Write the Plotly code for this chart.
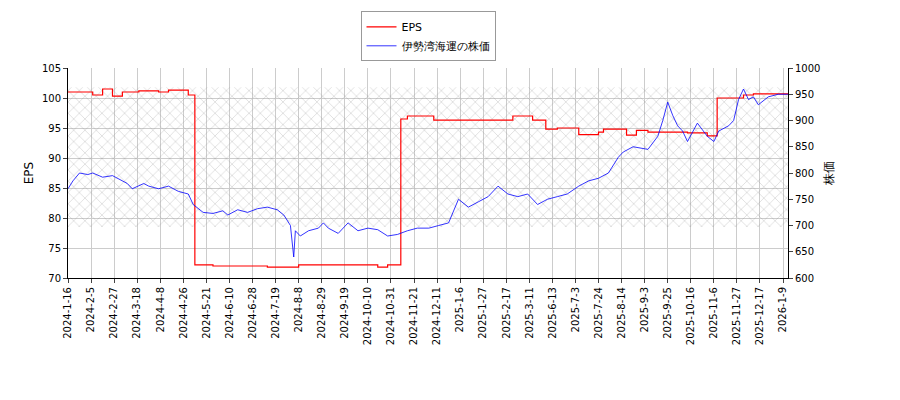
import plotly.graph_objects as go

tick_labels = ["2024-1-16","2024-2-5","2024-2-27","2024-3-18","2024-4-8","2024-4-26","2024-5-21","2024-6-10","2024-6-28","2024-7-19","2024-8-8","2024-8-29","2024-9-19","2024-10-10","2024-10-31","2024-11-21","2024-12-11","2025-1-6","2025-1-27","2025-2-17","2025-3-11","2025-6-13","2025-7-3","2025-7-24","2025-8-14","2025-9-3","2025-9-25","2025-10-16","2025-11-6","2025-11-27","2025-12-17","2026-1-9"]
tick_pos = [i*14 for i in range(len(tick_labels))]

price_x = [0,3,7,12,15,21,27,33,36,39,46,49,55,61,67,73,76,82,88,94,97,103,109,115,121,127,131,135,137,138,141,146,152,155,158,164,170,176,182,188,194,200,206,212,219,225,231,237,243,249,255,261,267,273,279,285,291,297,303,310,316,322,328,334,337,343,352,358,361,364,367,370,373,376,382,388,392,395,401,404,407,410,413,416,419,425,431,437]
price_y = [770,785,800,797,800,792,795,785,780,770,780,775,770,775,765,760,740,725,723,728,720,730,725,732,735,730,720,700,640,690,680,690,695,705,695,685,705,690,695,692,680,683,690,695,695,700,705,750,735,745,755,775,760,755,760,740,750,755,760,775,785,790,800,830,840,850,845,870,900,935,910,890,880,860,895,870,860,880,890,900,940,960,940,945,930,945,950,950]

eps_x = [0,15,21,27,33,43,55,61,73,77,88,121,140,188,194,202,206,222,270,282,290,297,310,322,325,339,345,352,376,388,394,410,416,437]
eps_y = [101,100.5,101.5,100.3,101,101.2,101,101.3,100.5,72.2,72,71.8,72.2,71.8,72.2,96.5,97,96.3,97,96.3,94.8,95,93.9,94.3,94.8,93.8,94.6,94.3,94.2,93.7,100,100.5,100.7,100.7]

hatch_lo, hatch_hi = 78.5, 101.8
xmax = 437

fig = go.Figure()
fig.add_trace(go.Scatter(x=[0,xmax,xmax,0,0], y=[hatch_lo,hatch_lo,hatch_hi,hatch_hi,hatch_lo],
    fill="toself", mode="lines", line=dict(width=0), showlegend=False, hoverinfo="skip",
    fillpattern=dict(shape="x", fgcolor="#888888", bgcolor="rgba(255,255,255,0)", size=8, solidity=0.12)))
fig.add_trace(go.Scatter(x=eps_x, y=eps_y, mode="lines", line=dict(color="red", width=1.2, shape="hv"), name="EPS"))
fig.add_trace(go.Scatter(x=price_x, y=price_y, mode="lines", line=dict(color="blue", width=0.8), name="伊勢湾海運の株価", yaxis="y2"))

ax = dict(showline=True, linecolor="black", mirror=False, ticks="outside", ticklen=4, gridcolor="#cccccc", zeroline=False)
fig.update_layout(
    width=900, height=400, margin=dict(l=60, r=120, t=60, b=130, autoexpand=False),
    plot_bgcolor="white", paper_bgcolor="white",
    font=dict(family="DejaVu Sans", size=10, color="black"),
    xaxis=dict(**ax, range=[0, xmax], tickvals=tick_pos, ticktext=tick_labels, tickangle=-90),
    yaxis=dict(**ax, range=[70, 105], dtick=5, title=dict(text="EPS", standoff=5)),
    yaxis2=dict(showline=True, linecolor="black", ticks="outside", ticklen=4, showgrid=False, zeroline=False,
                range=[600, 1000], dtick=50, overlaying="y", side="right", title=dict(text="株価", standoff=5)),
    legend=dict(x=0.5, y=1.27, xanchor="center", yanchor="top", bordercolor="#999999", borderwidth=1, bgcolor="white",
                font=dict(size=11)),
)
fig.write_html("out.html")
